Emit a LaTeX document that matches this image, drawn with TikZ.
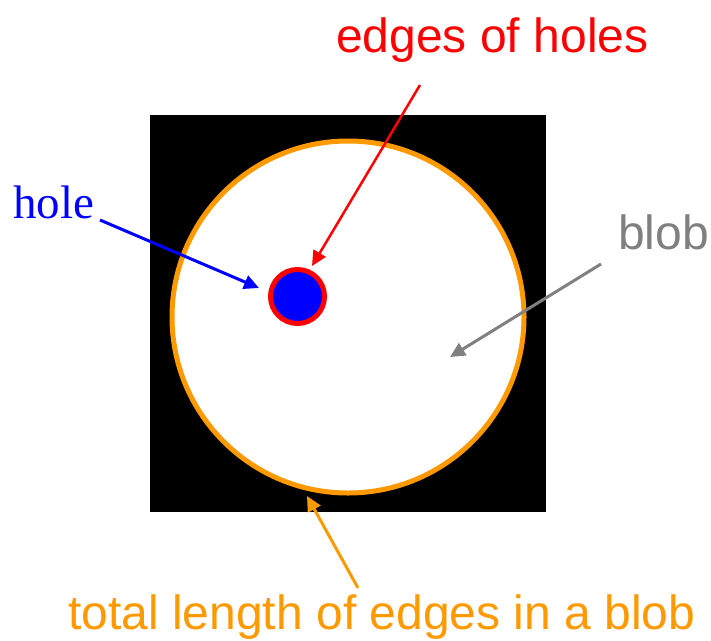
\documentclass[tikz,border=0pt]{standalone}
\usepackage{fontspec}
\setmainfont{Liberation Sans}
\newfontfamily\serifface{Liberation Serif}
\usetikzlibrary{arrows.meta}
\definecolor{blobgray}{RGB}{128,128,128}
\definecolor{blobor}{RGB}{255,153,0}
\definecolor{holered}{RGB}{255,0,0}
\definecolor{holeblue}{RGB}{0,0,255}
\begin{document}
\begin{tikzpicture}[x=1pt,y=-1pt,
  lbl/.style={inner sep=0pt,anchor=base west,font=\fontsize{48}{50}\selectfont},
  pointer/.style={line width=3pt,-{Triangle[length=15pt,width=14pt]}}]
\useasboundingbox (0,0) rectangle (711,640);
% black square
\fill[black] (150,115) rectangle (546,512);
% blob
\node[circle,draw=blobor,fill=white,line width=5pt,minimum size=352pt,inner sep=0pt] (blob) at (348,317) {};
% hole
\node[circle,draw=holered,fill=holeblue,line width=5pt,minimum size=54pt,inner sep=0pt] (hole) at (297.5,296.5) {};
% labels
\node[lbl,text=holeblue,font=\serifface\fontsize{47}{50}\selectfont] (tHole) at (13,218) {hole};
\node[lbl,text=holered] (tEdges) at (336,52) {edges of holes};
\node[lbl,text=blobgray] (tBlob) at (618,249) {blob};
\node[lbl,text=blobor] (tTotal) at (68,629) {total length of edges in a blob};
% arrow ends
\coordinate (aHoleS) at (100,220);
\coordinate (aHoleE) at (259,288);
\coordinate (aEdgeS) at (420,85);
\coordinate (aEdgeE) at (312,266);
\coordinate (aBlobS) at (601,264);
\coordinate (aBlobE) at (450,357);
\coordinate (aTotS) at (358,588);
\coordinate (aTotE) at (307,496);
\draw[pointer,holeblue] (aHoleS) -- (aHoleE);
\draw[pointer,holered,line width=2.5pt] (aEdgeS) -- (aEdgeE);
\draw[pointer,blobgray] (aBlobS) -- (aBlobE);
\draw[pointer,blobor] (aTotS) -- (aTotE);
\end{tikzpicture}
\end{document}
